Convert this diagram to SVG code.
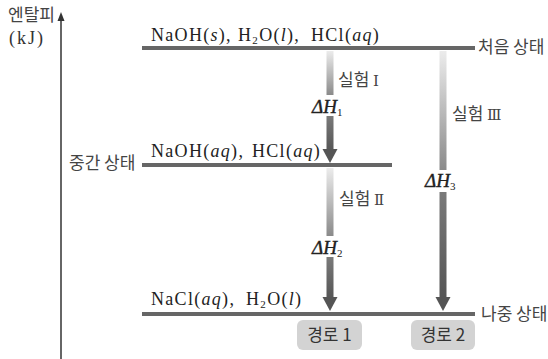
<svg xmlns="http://www.w3.org/2000/svg" width="548" height="359" viewBox="0 0 548 359">
<defs>
<linearGradient id="gUp" x1="0" y1="0" x2="0" y2="1"><stop offset="0" stop-color="#ececec"/><stop offset="1" stop-color="#8a8a8a"/></linearGradient>
<linearGradient id="gDn" x1="0" y1="0" x2="0" y2="1"><stop offset="0" stop-color="#7a7a7a"/><stop offset="1" stop-color="#555"/></linearGradient>
<style>
.lvl{fill:#666}
.kr{font-family:"Noto Sans CJK KR","Noto Sans",sans-serif;font-size:17px;fill:#444}
.rn{font-family:"DejaVu Serif","Liberation Serif",serif;font-size:15px}
.chem{font-family:"Liberation Serif",serif;font-size:18px;fill:#222;letter-spacing:1.3px}
.unit{font-family:"Liberation Serif",serif;font-size:18px;fill:#333;letter-spacing:2px}
.it{font-style:italic}
.sub{font-size:11px}
.dh{font-family:"Liberation Serif",serif;font-size:19px;font-style:italic;fill:#222;stroke:#222;stroke-width:0.4px}
.num{font-family:"Liberation Serif",serif;font-size:11px;font-style:normal;stroke-width:0}
.head{fill:#555}
.badge{fill:#d3d3d3}
</style>
</defs>
<rect width="548" height="359" fill="#fff"/>
<g id="axis">
<line x1="61" y1="359" x2="61" y2="18" stroke="#333" stroke-width="1.5"/>
<polygon points="61,12 57.5,21 64.5,21" fill="#333"/>
<text class="kr" x="8" y="21">엔탈피</text>
<text class="unit" x="9" y="44">(kJ)</text>
</g>
<g id="state-initial">
<rect class="lvl" x="142" y="46" width="333" height="4"/>
<text class="chem" y="41"><tspan x="151">NaOH(<tspan class="it">s</tspan>),</tspan><tspan x="238">H<tspan class="sub" dy="3">2</tspan><tspan dy="-3">O(</tspan><tspan class="it">l</tspan>),</tspan><tspan x="311">HCl(<tspan class="it">aq</tspan>)</tspan></text>
<text class="kr" x="478" y="53">처음 상태</text>
</g>
<g id="state-middle">
<rect class="lvl" x="142" y="163" width="250" height="4"/>
<text class="chem" y="157"><tspan x="151">NaOH(<tspan class="it">aq</tspan>),</tspan><tspan x="252">HCl(<tspan class="it">aq</tspan>)</tspan></text>
<text class="kr" x="69" y="169">중간 상태</text>
</g>
<g id="state-final">
<rect class="lvl" x="142" y="312" width="333" height="4"/>
<text class="chem" y="305"><tspan x="151">NaCl(<tspan class="it">aq</tspan>),</tspan><tspan x="246">H<tspan class="sub" dy="3">2</tspan><tspan dy="-3">O(</tspan><tspan class="it">l</tspan>)</tspan></text>
<text class="kr" x="481" y="320">나중 상태</text>
</g>
<g id="connectors">
<g id="exp1">
<rect x="326.5" y="51" width="7" height="44" fill="url(#gUp)"/>
<rect x="326.5" y="116" width="7" height="35" fill="url(#gDn)"/>
<polygon class="head" points="322.5,149 337.5,149 330,163"/>
<text class="kr" x="338" y="86">실험 <tspan class="rn">Ⅰ</tspan></text>
<text class="dh" x="312" y="113">ΔH<tspan class="num" dy="3">1</tspan></text>
</g>
<g id="exp2">
<rect x="326.5" y="168" width="7" height="68" fill="url(#gUp)"/>
<rect x="326.5" y="257" width="7" height="42" fill="url(#gDn)"/>
<polygon class="head" points="322.5,297 337.5,297 330,311"/>
<text class="kr" x="339" y="205">실험 <tspan class="rn">Ⅱ</tspan></text>
<text class="dh" x="312" y="254">ΔH<tspan class="num" dy="3">2</tspan></text>
</g>
<g id="exp3">
<rect x="439.5" y="51" width="7" height="119" fill="url(#gUp)"/>
<rect x="439.5" y="192" width="7" height="107" fill="url(#gDn)"/>
<polygon class="head" points="435.5,297 450.5,297 443,311"/>
<text class="kr" x="452" y="120">실험 <tspan class="rn">Ⅲ</tspan></text>
<text class="dh" x="425" y="187">ΔH<tspan class="num" dy="3">3</tspan></text>
</g>
</g>
<g id="route1">
<rect class="badge" x="297" y="320" width="65" height="30" rx="6"/>
<text class="kr" x="329.5" y="341" text-anchor="middle" style="fill:#333">경로 1</text>
</g>
<g id="route2">
<rect class="badge" x="411" y="320" width="64" height="30" rx="6"/>
<text class="kr" x="443" y="341" text-anchor="middle" style="fill:#333">경로 2</text>
</g>
</svg>
